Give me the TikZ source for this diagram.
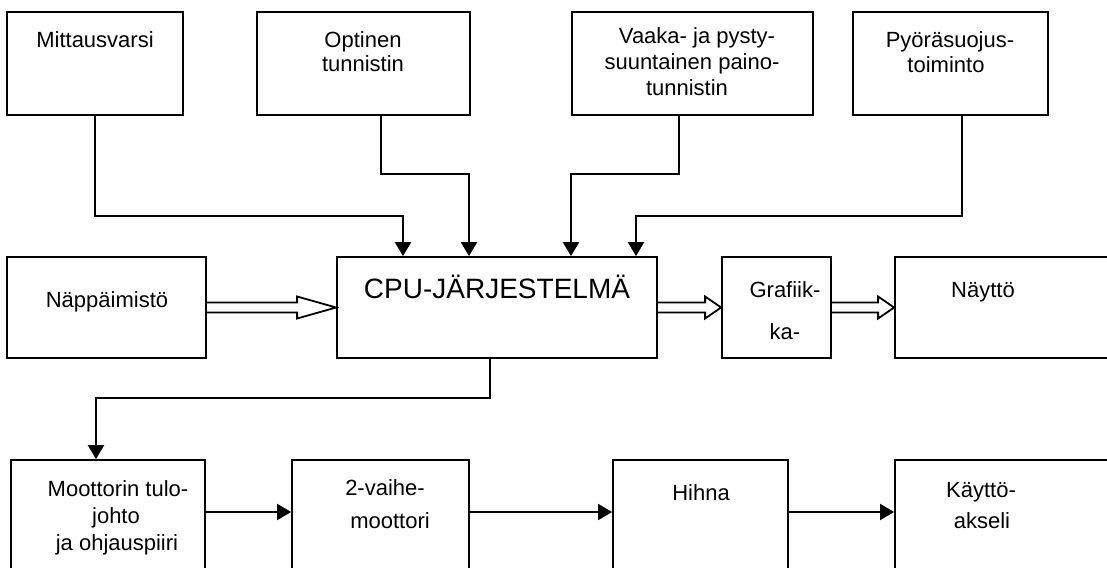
\documentclass[tikz,border=0pt]{standalone}
\usepackage{fontspec}
\setmainfont{Liberation Sans}
\usetikzlibrary{arrows.meta,calc,fit}
\tikzset{
  box/.style={draw,line width=0.9pt,inner sep=0pt,rectangle},
  arr/.style={line width=1pt,-{Triangle[length=7pt,width=8pt]}},
  hol/.style={line width=0.9pt,line join=miter},
  txt/.style={anchor=base,inner sep=0pt,font=\fontsize{11}{13}\selectfont},
  big/.style={anchor=base,inner sep=0pt,font=\fontsize{14}{16}\selectfont}
}
\newcommand\harrow[3]{%
  \draw[hol] ($(#1.east)+(0,-5)$) -- ($(#2.west)+(-#3,-5)$) -- ($(#2.west)+(-#3,-11)$) -- (#2.west)
    -- ($(#2.west)+(-#3,11)$) -- ($(#2.west)+(-#3,5)$) -- ($(#1.east)+(0,5)$);}
\begin{document}
\begin{tikzpicture}[x=0.5pt,y=-0.5pt]
\useasboundingbox (0,0) rectangle (1107,567);
\clip (0,0) rectangle (1107,567);
% boxes
\node[box,fit={(7,12) (183,115)}] (mitt) {};
\node[box,fit={(257,12) (470,115)}] (opt) {};
\node[box,fit={(572,12) (813,115)}] (vaaka) {};
\node[box,fit={(853,12) (1048,115)}] (pyora) {};
\node[box,fit={(7,257) (206,358)}] (napp) {};
\node[box,fit={(337,257) (657,358)}] (cpu) {};
\node[box,fit={(722,257) (831,358)}] (graf) {};
\node[box,fit={(895,257) (1112,358)}] (nayt) {};
\node[box,fit={(11,460) (205,600)}] (moot) {};
\node[box,fit={(292,460) (469,600)}] (vaihe) {};
\node[box,fit={(613,460) (788,600)}] (hihna) {};
\node[box,fit={(895,460) (1115,600)}] (kaytto) {};
% texts
\node[txt] (t1) at (95,48) {Mittausvarsi};
\node[txt] (t2) at (363,48) {Optinen};
\node[txt] (t3) at (363,72) {tunnistin};
\node[txt] (t4) at (697,44) {Vaaka- ja pysty-};
\node[txt] (t5) at (692,70) {suuntainen paino-};
\node[txt] (t6) at (687,96) {tunnistin};
\node[txt] (t7) at (950,48) {Pyöräsuojus-};
\node[txt] (t8) at (946,73) {toiminto};
\node[txt] (t9) at (107,307) {Näppäimistö};
\node[big] (t10) at (497,298) {CPU-JÄRJESTELMÄ};
\node[txt] (t11) at (785,297) {Grafiik-};
\node[txt] (t12) at (785,339) {ka-};
\node[txt] (t13) at (983,297) {Näyttö};
\node[txt] (t14) at (118,496) {Moottorin tulo-};
\node[txt] (t15) at (116,523) {johto};
\node[txt] (t16) at (117,550) {ja ohjauspiiri};
\node[txt] (t17) at (385,495) {2-vaihe-};
\node[txt] (t18) at (390,528) {moottori};
\node[txt] (t19) at (701,500) {Hihna};
\node[txt] (t20) at (981,497) {Käyttö-};
\node[txt] (t21) at (982,528) {akseli};
% connectors to CPU
\coordinate (a1) at (403,216);
\coordinate (a2) at (469,174);
\coordinate (a3) at (571,174);
\coordinate (a4) at (636,216);
\coordinate (a5) at (96,398);
\coordinate (ry) at (0,512);
\draw[arr] (mitt.south) |- (a1) -- (a1 |- cpu.north);
\draw[arr] ($(opt.south)+(17.5,0)$) |- (a2) -- (a2 |- cpu.north);
\draw[arr] ($(vaaka.south)+(-13.5,0)$) |- (a3) -- (a3 |- cpu.north);
\draw[arr] ($(pyora.south)+(11.5,0)$) |- (a4) -- (a4 |- cpu.north);
\draw[arr] ($(cpu.south)+(-7,0)$) |- (a5) -- (a5 |- moot.north);
% hollow arrows
\harrow{napp}{cpu}{39}
\harrow{cpu}{graf}{16}
\harrow{graf}{nayt}{16}
% bottom chain
\draw[arr] (moot.east |- ry) -- (vaihe.west |- ry);
\draw[arr] (vaihe.east |- ry) -- (hihna.west |- ry);
\draw[arr] (hihna.east |- ry) -- (kaytto.west |- ry);
\end{tikzpicture}
\end{document}
